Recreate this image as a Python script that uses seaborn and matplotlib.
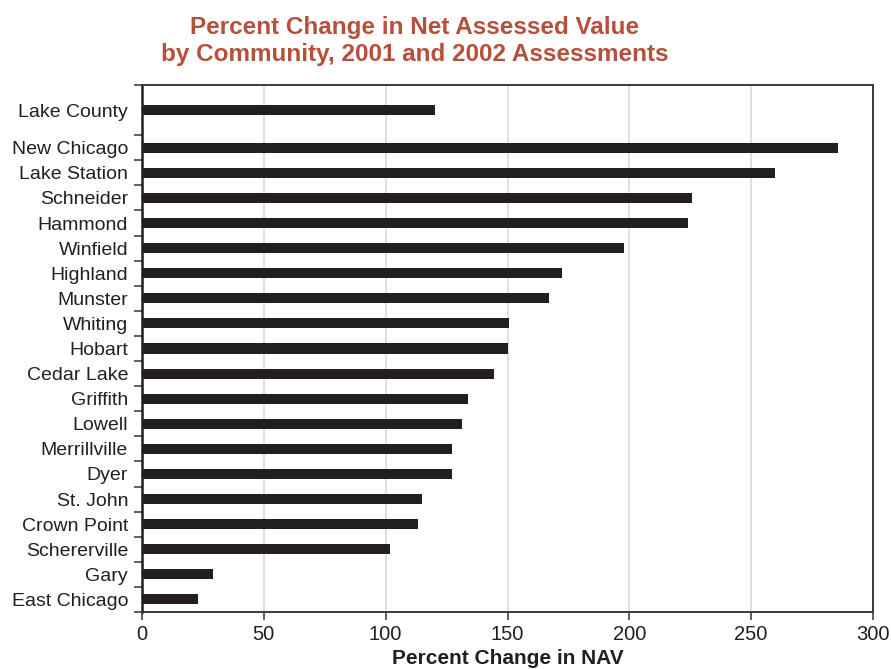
import matplotlib
matplotlib.use("Agg")
import matplotlib.pyplot as plt
import seaborn as sns
import pandas as pd
import numpy as np

# ---- data ----
communities = ["Lake County", "New Chicago", "Lake Station", "Schneider", "Hammond",
               "Winfield", "Highland", "Munster", "Whiting", "Hobart", "Cedar Lake",
               "Griffith", "Lowell", "Merrillville", "Dyer", "St. John", "Crown Point",
               "Schererville", "Gary", "East Chicago"]
pct_change = [120.1, 285.6, 259.7, 225.7, 224.0,
              198.0, 172.3, 167.0, 150.7, 150.3, 144.5,
              133.9, 131.4, 127.3, 127.3, 114.9, 113.3,
              101.8, 29.0, 23.0]
x_ticks = [0, 50, 100, 150, 200, 250, 300]
title = "Percent Change in Net Assessed Value\nby Community, 2001 and 2002 Assessments"
x_label = "Percent Change in NAV"

# ---- layout: county total sits apart above the communities ----
n_comm = len(communities) - 1
positions = [-1.5] + list(range(n_comm))
df = pd.DataFrame({"community": communities, "value": pct_change, "pos": positions})

sns.set_theme(style="white")
plt.rcParams["font.family"] = ["Liberation Sans", "DejaVu Sans"]

fig = plt.figure(figsize=(8.91, 6.69), dpi=100)
ax = fig.add_axes([142/891, 1 - 612/669, (873 - 142)/891, (612 - 85)/669])

sns.barplot(data=df, x="value", y="pos", orient="y", native_scale=True,
            color="#231f20", saturation=1, width=0.4, errorbar=None,
            linewidth=0, ax=ax, zorder=3)

ax.set_xlim(0, 300)
ax.set_ylim(n_comm - 0.5, -2.5)

# x axis
ax.set_xticks(x_ticks)
ax.set_xticklabels([str(t) for t in x_ticks])
ax.grid(axis="x", color="#d6d6d6", linewidth=1.1, zorder=0)
ax.grid(axis="y", visible=False)
ax.tick_params(axis="x", which="major", direction="out", length=6, width=1.2,
               color="#444444", labelsize=14.5, pad=3, bottom=True, labelcolor="#231f20")
ax.set_xlabel(x_label, fontsize=15, fontweight="bold", color="#231f20", labelpad=4)

# y axis: tick marks at row boundaries, labels at row centers
bounds = [-2.5, -0.5] + [i + 0.5 for i in range(n_comm)]
ax.set_yticks(bounds)
ax.set_yticklabels([""] * len(bounds))
ax.set_yticks(positions, minor=True)
ax.set_yticklabels(communities, minor=True)
ax.tick_params(axis="y", which="major", direction="out", length=6, width=1.2,
               color="#444444", left=True)
ax.tick_params(axis="y", which="minor", length=0, labelsize=14, pad=10,
               labelcolor="#231f20", left=True)
ax.set_ylabel("")

for side, sp in ax.spines.items():
    sp.set_visible(True)
    sp.set_color("#3a3a3a")
    sp.set_linewidth(1.4)
ax.spines["left"].set_color("#231f20")
ax.spines["left"].set_linewidth(1.8)

fig.text(415/891, 1 - 16/669, title, ha="center", va="top", fontsize=17.5,
         fontweight="bold", color="#B5503B", linespacing=1.25)

fig.savefig("out.png", dpi=100)
